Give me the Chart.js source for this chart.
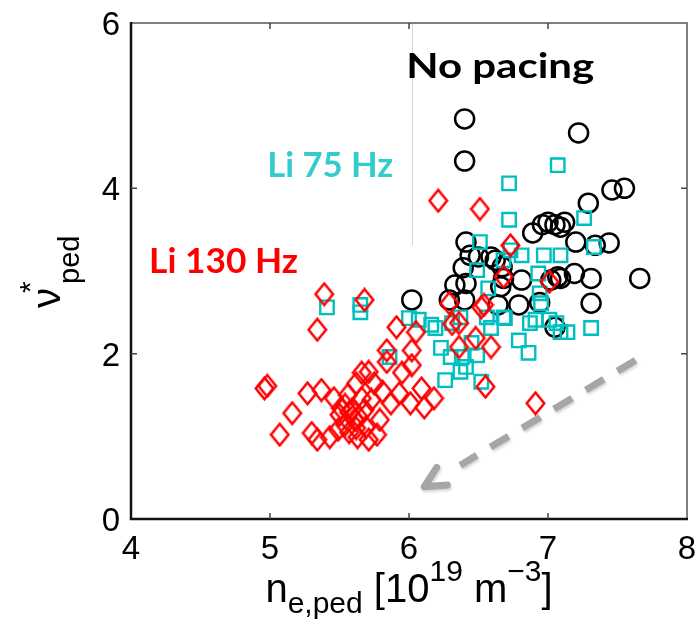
<!DOCTYPE html>
<html><head><meta charset="utf-8">
<script src="https://cdn.jsdelivr.net/npm/chart.js@4/dist/chart.umd.min.js"></script>
<style>html,body{margin:0;padding:0;background:#fff;}canvas{display:block;}</style>
</head><body>
<canvas id="c" width="699" height="628"></canvas>
<script>
// ---- data ----
const noPacingX = [6.40,6.40,7.22,7.46,7.55,7.29,7.12,7.05,7.00,6.96,7.09,6.89,7.20,7.34,7.44,6.41,6.44,6.50,6.59,6.62,6.39,6.67,6.33,6.29,6.40,6.02,6.68,6.81,6.66,6.64,6.79,6.94,7.02,7.07,7.19,7.31,7.66,7.31,7.05,6.41,7.09];
const noPacingY = [4.84,4.33,4.67,3.98,4.00,3.82,3.59,3.56,3.59,3.56,3.53,3.46,3.35,3.31,3.34,3.35,3.19,3.17,3.17,3.13,3.04,3.05,2.83,2.65,2.65,2.65,2.91,2.89,2.81,2.59,2.59,2.62,2.89,2.93,2.97,2.91,2.91,2.61,2.32,2.85,2.91];
const li75X = [5.41,5.65,5.65,7.07,6.72,6.72,7.26,6.51,7.33,6.81,6.97,7.09,6.73,6.49,6.93,6.57,6.94,6.95,6.00,6.07,6.16,6.19,6.31,6.37,6.56,6.68,6.87,7.01,7.06,6.23,6.30,6.38,6.49,6.41,6.37,6.26,6.52,6.79,6.86,6.45,5.86,7.31,7.09,7.14,6.69,6.91,6.59,6.68];
const li75Y = [2.56,2.59,2.50,4.28,4.06,3.62,3.64,3.35,3.29,3.19,3.19,3.19,3.25,3.01,2.97,2.79,2.73,2.61,2.43,2.41,2.35,2.31,2.37,2.44,2.44,2.44,2.37,2.41,2.37,2.07,1.96,1.96,1.98,1.84,1.78,1.68,1.66,2.16,2.01,2.13,1.96,2.31,2.26,2.26,2.43,2.41,2.31,3.13];
const li130X = [6.21,6.51,6.73,5.39,5.68,5.34,6.68,7.01,6.29,6.54,5.91,6.05,6.31,6.48,6.36,6.59,6.52,5.84,6.02,5.84,6.02,5.95,5.71,5.62,6.09,6.18,5.93,6.01,6.11,5.87,5.81,5.75,5.66,6.55,6.91,6.36,4.96,4.98,5.16,5.07,5.27,5.37,5.30,5.34,5.43,5.46,5.54,5.57,5.61,5.64,5.69,5.77,5.79,5.59,5.50,5.54,5.57,5.63,5.68,5.73,5.56,5.66,5.49,5.71,5.62,5.51];
const li130Y = [3.85,3.75,3.31,2.72,2.65,2.29,2.93,2.87,2.61,2.59,2.32,2.26,2.36,2.19,2.08,2.08,2.56,2.04,2.04,1.90,1.86,1.77,1.78,1.64,1.58,1.46,1.52,1.40,1.35,1.40,1.54,1.64,1.77,1.60,1.40,2.37,1.58,1.61,1.28,1.02,1.52,1.56,1.04,0.96,0.99,1.46,1.38,1.29,1.20,1.23,1.11,1.02,1.20,1.32,1.26,1.14,1.05,0.99,1.32,1.44,1.50,1.46,1.08,0.96,1.10,1.34];
const xTicks = [4,5,6,7,8];
const yTicks = [0,2,4,6];
const seriesNames = ['No pacing','Li 75 Hz','Li 130 Hz'];
// annotation anchors (data units)
const nameAnchorX = [5.98, 4.98, 4.13];
const nameAnchorY = [5.34, 4.14, 2.97];
const arrowFrom = [7.63, 1.92];
const arrowTo = [6.11, 0.39];
const guideX = [6.02, 6.02];
const guideY = [3.31, 6];

// ---- styles ----
const RED = '#ff0000', CYAN = '#00bfbf', CYAN_TXT = '#33cccc', BLACK = '#000000';
const nameColors = [BLACK, CYAN_TXT, RED];
const nameWidths = [188, 126, 149];
const TICK_FONT = "'Liberation Sans', Arial, Helvetica, sans-serif";

function diamondImg(color, w, h, lw) {
  const c = document.createElement('canvas'); c.width = w; c.height = h;
  const g = c.getContext('2d');
  g.strokeStyle = color; g.lineWidth = lw; g.lineJoin = 'miter';
  const m = lw / 2 + 0.5;
  g.beginPath(); g.moveTo(w/2, m); g.lineTo(w - m, h/2); g.lineTo(w/2, h - m); g.lineTo(m, h/2); g.closePath(); g.stroke();
  return c;
}
const pts = (xs, ys) => xs.map((x, i) => ({x, y: ys[i]}));
const noPad = s => { s.paddingTop = 0; s.paddingBottom = 0; s.paddingLeft = 0; s.paddingRight = 0; };

const overlay = {
  id: 'overlay',
  beforeDatasetsDraw(chart) {
    const {ctx, scales: {x, y}} = chart;
    ctx.save();
    ctx.strokeStyle = '#d4d4d4'; ctx.lineWidth = 1;
    ctx.beginPath();
    ctx.moveTo(Math.round(x.getPixelForValue(guideX[0])) + 0.5, y.getPixelForValue(guideY[0]));
    ctx.lineTo(Math.round(x.getPixelForValue(guideX[1])) + 0.5, y.getPixelForValue(guideY[1]));
    ctx.stroke();
    ctx.restore();
  },
  afterDatasetsDraw(chart) {
    const {ctx, chartArea: a, scales: {x, y}} = chart;
    ctx.save();
    // frame
    ctx.strokeStyle = '#555'; ctx.lineWidth = 1.5;
    ctx.beginPath(); ctx.moveTo(a.left, a.top); ctx.lineTo(a.right, a.top); ctx.lineTo(a.right, a.bottom); ctx.stroke();
    ctx.strokeStyle = '#111'; ctx.lineWidth = 2.5;
    ctx.beginPath(); ctx.moveTo(a.left, a.top - 1); ctx.lineTo(a.left, a.bottom); ctx.lineTo(a.right + 1, a.bottom); ctx.stroke();
    // inward ticks
    ctx.strokeStyle = '#444'; ctx.lineWidth = 1.5;
    ctx.beginPath();
    xTicks.slice(1, -1).forEach(v => {
      const px = x.getPixelForValue(v);
      ctx.moveTo(px, a.bottom); ctx.lineTo(px, a.bottom - 6);
      ctx.moveTo(px, a.top); ctx.lineTo(px, a.top + 6);
    });
    yTicks.slice(1, -1).forEach(v => {
      const py = y.getPixelForValue(v);
      ctx.moveTo(a.left, py); ctx.lineTo(a.left + 6, py);
      ctx.moveTo(a.right, py); ctx.lineTo(a.right - 6, py);
    });
    ctx.stroke();

    // arrow
    const p0 = {x: x.getPixelForValue(arrowFrom[0]), y: y.getPixelForValue(arrowFrom[1])};
    const p1 = {x: x.getPixelForValue(arrowTo[0]), y: y.getPixelForValue(arrowTo[1])};
    const dx = p1.x - p0.x, dy = p1.y - p0.y, L = Math.hypot(dx, dy), ux = dx / L, uy = dy / L;
    ctx.strokeStyle = '#a6a6a6'; ctx.lineWidth = 7;
    ctx.shadowColor = 'rgba(0,0,0,0.18)'; ctx.shadowBlur = 3; ctx.shadowOffsetX = 1; ctx.shadowOffsetY = 2;
    ctx.setLineDash([21, 16]); ctx.lineCap = 'butt';
    ctx.beginPath(); ctx.moveTo(p0.x, p0.y); ctx.lineTo(p0.x + ux * (L - 42), p0.y + uy * (L - 42)); ctx.stroke();
    ctx.setLineDash([]); ctx.lineCap = 'round'; ctx.lineJoin = 'round';
    const back = Math.atan2(-uy, -ux);
    ctx.beginPath();
    ctx.moveTo(p1.x + Math.cos(back - 0.46) * 23, p1.y + Math.sin(back - 0.46) * 23);
    ctx.lineTo(p1.x, p1.y);
    ctx.lineTo(p1.x + Math.cos(back + 0.46) * 23, p1.y + Math.sin(back + 0.46) * 23);
    ctx.stroke();
    ctx.shadowColor = 'transparent'; ctx.shadowBlur = 0; ctx.shadowOffsetX = 0; ctx.shadowOffsetY = 0;

    // series name labels (stretched horizontally to the reference's width)
    ctx.textBaseline = 'alphabetic'; ctx.textAlign = 'left';
    seriesNames.forEach((t, i) => {
      ctx.font = "bold 35px Lato, 'DejaVu Sans', sans-serif";
      const w = ctx.measureText(t).width;
      const px = x.getPixelForValue(nameAnchorX[i]), py = y.getPixelForValue(nameAnchorY[i]);
      ctx.save();
      ctx.translate(px, py);
      ctx.scale(nameWidths[i] / w, 1);
      ctx.fillStyle = nameColors[i];
      ctx.fillText(t, 0, 0);
      ctx.restore();
    });

    // x-axis title: n_{e,ped} [10^{19} m^{-3}]
    const MAIN = "40px 'Liberation Sans', Arial, sans-serif", SUB = "30px 'Liberation Sans', Arial, sans-serif";
    const segs = [
      {t: 'n', f: MAIN, dy: 0}, {t: 'e,ped', f: SUB, dy: 11}, {t: ' [10', f: MAIN, dy: 0},
      {t: '19', f: SUB, dy: -21}, {t: ' m', f: MAIN, dy: 0}, {t: '\u22123', f: SUB, dy: -21}, {t: ']', f: MAIN, dy: 0}
    ];
    ctx.fillStyle = '#000';
    let tot = 0;
    segs.forEach(s => { ctx.font = s.f; s.w = ctx.measureText(s.t).width; tot += s.w; });
    let cx = (a.left + a.right) / 2 - tot / 2;
    const base = a.bottom + 83;
    segs.forEach(s => { ctx.font = s.f; ctx.fillText(s.t, cx, base + s.dy); cx += s.w; });

    // y-axis title: nu^*_{ped} (rotated)
    ctx.save();
    const midY = (a.top + a.bottom) / 2;
    ctx.translate(a.left - 71, midY + 37);
    ctx.rotate(-Math.PI / 2);
    ctx.font = "40px 'Liberation Sans', Arial, sans-serif";
    const wn = ctx.measureText('\u03bd').width;
    ctx.fillText('\u03bd', 0, 0);
    ctx.font = "30px 'Liberation Sans', Arial, sans-serif";
    ctx.fillText('*', wn - 5, -20);
    ctx.font = "29px 'Liberation Sans', Arial, sans-serif";
    ctx.fillText('ped', wn + 4, 19);
    ctx.restore();

    ctx.restore();
  }
};

new Chart(document.getElementById('c'), {
  type: 'scatter',
  data: {
    datasets: [
      {label: seriesNames[2], data: pts(li130X, li130Y), pointStyle: diamondImg(RED, 21, 25, 2.5), pointRadius: 10},
      {label: seriesNames[1], data: pts(li75X, li75Y), pointStyle: 'rect', pointRadius: 9.5, borderColor: CYAN, backgroundColor: 'rgba(0,0,0,0)', borderWidth: 2.4},
      {label: seriesNames[0], data: pts(noPacingX, noPacingY), pointStyle: 'circle', pointRadius: 9.5, borderColor: BLACK, backgroundColor: 'rgba(0,0,0,0)', borderWidth: 2.5}
    ]
  },
  options: {
    responsive: false, animation: false, devicePixelRatio: 1, events: [],
    layout: {padding: {top: 23, right: 10, left: 0, bottom: 0}},
    plugins: {legend: {display: false}, tooltip: {enabled: false}},
    scales: {
      x: {
        type: 'linear', min: 4, max: 8,
        afterBuildTicks: s => { s.ticks = xTicks.map(v => ({value: v})); },
        afterFit: s => { s.height = 109; noPad(s); },
        grid: {display: false, drawTicks: false}, border: {display: false},
        ticks: {color: '#000', padding: 11, font: {family: TICK_FONT, size: 33}}
      },
      y: {
        type: 'linear', min: 0, max: 6,
        afterBuildTicks: s => { s.ticks = yTicks.map(v => ({value: v})); },
        afterFit: s => { s.width = 131; noPad(s); },
        grid: {display: false, drawTicks: false}, border: {display: false},
        ticks: {color: '#000', padding: 11, labelOffset: 3, font: {family: TICK_FONT, size: 33}}
      }
    }
  },
  plugins: [overlay]
});
</script>
</body></html>
